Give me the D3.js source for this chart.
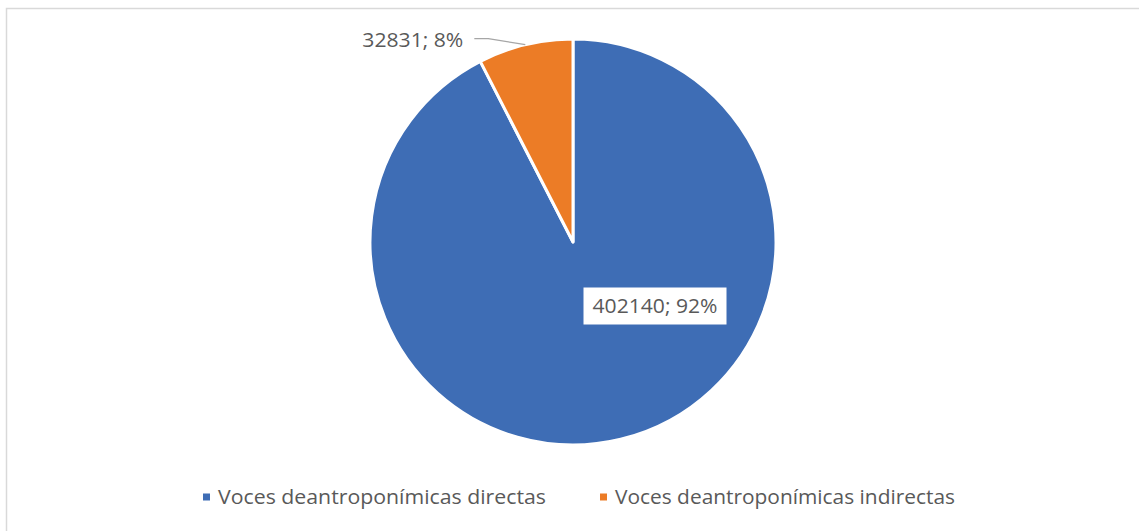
<!DOCTYPE html>
<html>
<head>
<meta charset="utf-8">
<script src="https://cdn.jsdelivr.net/npm/d3@7"></script>
<style>
  html, body { margin: 0; padding: 0; background: #fff; }
  svg { display: block; }
  text { font-family: "Open Sans", Lato, sans-serif; fill: #595959; }
</style>
</head>
<body>
<svg id="chart" width="1139" height="531"></svg>
<script>
// Series
const categories = ["Voces deantroponímicas directas", "Voces deantroponímicas indirectas"];
const values = [402140, 32831];
const colors = ["#3E6DB5", "#EC7C26"];

const svg = d3.select("#chart");
const W = 1139, H = 531;

// Chart area frame
svg.append("rect")
  .attr("x", 6.5).attr("y", 8.5)
  .attr("width", W + 10).attr("height", H + 10)
  .attr("fill", "#fff")
  .attr("stroke", "#d9d9d9")
  .attr("stroke-width", 1.5);

const cx = 573, cy = 242, radius = 203;
const total = d3.sum(values);
const pct = v => Math.round(v / total * 100) + "%";

const pie = d3.pie().sort(null).value(d => d)(values);
const arc = d3.arc().innerRadius(0).outerRadius(radius);

const g = svg.append("g").attr("transform", `translate(${cx},${cy})`);

g.selectAll("path.slice")
  .data(pie)
  .join("path")
  .attr("class", "slice")
  .attr("d", arc)
  .attr("fill", (d, i) => colors[i])
  .attr("stroke", "#fff")
  .attr("stroke-width", 3)
  .attr("stroke-linejoin", "round");

// Fit a text element to a given width
function fit(sel, w) {
  sel.attr("textLength", w).attr("lengthAdjust", "spacingAndGlyphs");
  return sel;
}

// Label inside the large slice, on a white box
const big = pie[0];
const bigLabel = g.append("g").attr("transform", "translate(82,64)");
bigLabel.append("rect")
  .attr("x", -71.5).attr("y", -18.5)
  .attr("width", 143).attr("height", 37)
  .attr("fill", "#fff");
bigLabel.append("text")
  .attr("text-anchor", "middle")
  .attr("dy", "0.36em")
  .style("font-size", "20px")
  .text(`${big.data}; ${pct(big.data)}`)
  .call(fit, 125);

// Outside label for the small slice, with a leader line
const small = pie[1];
const mid = (small.startAngle + small.endAngle) / 2;
const edge = [Math.sin(mid) * radius, -Math.cos(mid) * radius];
const elbow = [edge[0] - 37, edge[1] - 6];
const tail = [elbow[0] - 14, elbow[1]];
g.append("polyline")
  .attr("points", [edge, elbow, tail].map(p => p.join(",")).join(" "))
  .attr("fill", "none")
  .attr("stroke", "#a6a6a6")
  .attr("stroke-width", 1.3);
g.append("text")
  .attr("x", tail[0] - 112)
  .attr("y", tail[1] + 1)
  .attr("dy", "0.36em")
  .style("font-size", "20px")
  .text(`${small.data}; ${pct(small.data)}`)
  .call(fit, 101);

// Legend
const legendX = [203, 600];
const legendW = [328, 340];
const legendY = 497;
const legend = svg.append("g");
categories.forEach((c, i) => {
  legend.append("rect")
    .attr("x", legendX[i]).attr("y", legendY - 3.5)
    .attr("width", 7).attr("height", 7)
    .attr("fill", colors[i]);
  legend.append("text")
    .attr("x", legendX[i] + 15).attr("y", legendY)
    .attr("dy", "0.36em")
    .style("font-size", "20px")
    .text(c)
    .call(fit, legendW[i]);
});
</script>
</body>
</html>
